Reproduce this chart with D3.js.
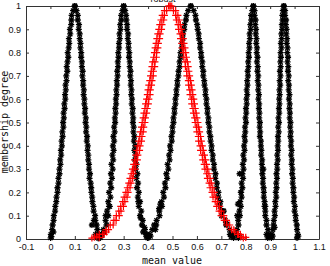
<!DOCTYPE html>
<html><head><meta charset="utf-8">
<script src="https://cdn.jsdelivr.net/npm/d3@7"></script>
<style>body{margin:0;background:#fff}svg{display:block}</style>
</head><body>
<svg id="c" width="330" height="266"></svg>
<script>
// membership levels (y) shared by the flank readings
const levels = [1.00,0.98,0.96,0.94,0.92,0.90,0.88,0.86,0.84,0.82,0.80,0.78,0.76,0.74,0.72,0.70,0.68,0.66,0.64,0.62,0.60,0.58,0.56,0.54,0.52,0.50,0.48,0.46,0.44,0.42,0.40,0.38,0.36,0.34,0.32,0.30,0.28,0.26,0.24,0.22,0.20,0.18,0.16,0.14,0.12,0.10,0.08,0.06,0.04,0.02];

// black curve 1 (peak ~0.10)
const c1L = [.100,.093,.087,.086,.085,.080,.081,.076,.077,.075,.071,.073,.070,.067,.069,.065,.066,.062,.063,.060,.061,.057,.058,.054,.055,.052,.053,.049,.050,.046,.047,.043,.044,.040,.041,.037,.037,.033,.033,.029,.029,.025,.024,.020,.019,.014,.013,.009,.007,.002];
const c1R = [.100,.107,.112,.112,.117,.116,.120,.120,.123,.123,.126,.126,.129,.129,.132,.131,.134,.134,.137,.136,.139,.139,.142,.141,.145,.144,.147,.146,.150,.149,.153,.152,.155,.155,.158,.158,.162,.160,.165,.167,.168,.171,.172,.176,.177,.183,.184,.189,.192,.196];
const c1Extra = [[0.001,0.005],[0.004,0.01],[0.012,0.03],[0.170,0.06],[0.178,0.08],[0.188,0.012],[0.195,0.004],[0.185,0.02]];

// black curve 2 (peak ~0.30)
const c2L = [.300,.295,.290,.290,.286,.287,.283,.284,.281,.281,.278,.279,.276,.277,.274,.275,.272,.273,.270,.271,.268,.269,.266,.267,.264,.265,.261,.263,.258,.261,.256,.259,.254,.257,.250,.255,.248,.252,.245,.249,.240,.246,.237,.243,.232,.237,.226,.230,.217,.212];
const c2R = [.300,.306,.310,.311,.314,.314,.318,.317,.320,.320,.323,.322,.325,.325,.328,.327,.330,.329,.332,.331,.334,.333,.337,.336,.339,.338,.341,.340,.344,.342,.347,.344,.349,.346,.352,.349,.356,.352,.359,.355,.362,.358,.367,.362,.372,.367,.378,.375,.387,.394];
const c2Extra = [[0.205,0.006],[0.208,0.015],[0.220,0.03],[0.198,0.004],[0.226,0.10],[0.240,0.14],[0.360,0.16],[0.370,0.09],[0.398,0.005],[0.392,0.012],[0.380,0.03],[0.385,0.05]];

// black curve 3 (peak ~0.575)
const c3L = [.575,.564,.557,.555,.549,.548,.543,.543,.538,.538,.533,.533,.529,.529,.525,.524,.520,.520,.516,.516,.512,.512,.508,.508,.504,.504,.500,.500,.496,.497,.490,.492,.486,.488,.480,.483,.475,.478,.469,.471,.462,.465,.455,.457,.446,.447,.435,.433,.417,.407];
const c3R = [.575,.587,.594,.596,.601,.603,.607,.608,.613,.613,.617,.618,.622,.622,.626,.626,.630,.631,.635,.635,.639,.639,.643,.643,.647,.647,.651,.651,.655,.656,.660,.660,.665,.665,.670,.670,.676,.675,.682,.681,.688,.688,.696,.695,.705,.701,.716,.720,.734,.745];
const c3Extra = [[0.400,0.005],[0.410,0.012],[0.395,0.02],[0.425,0.06],[0.430,0.04],[0.450,0.15],[0.445,0.13],[0.735,0.02],[0.740,0.01],[0.750,0.005],[0.720,0.07],[0.710,0.12]];

// black curve 4 (peak ~0.83)
const c4L = [.831,.827,.822,.823,.819,.820,.816,.817,.814,.815,.812,.813,.810,.811,.808,.809,.806,.807,.804,.806,.803,.804,.801,.802,.799,.801,.797,.798,.795,.797,.793,.795,.790,.793,.788,.791,.786,.789,.783,.786,.781,.783,.777,.780,.774,.776,.769,.770,.764,.762];
const c4R = [.831,.836,.836,.840,.839,.842,.841,.844,.843,.846,.845,.848,.846,.849,.848,.851,.849,.852,.851,.854,.852,.855,.854,.856,.855,.858,.857,.859,.858,.862,.862,.864,.863,.867,.866,.868,.868,.871,.870,.873,.874,.874,.877,.877,.880,.880,.885,.885,.891,.895];
const c4Extra = [[0.770,0.005],[0.775,0.012],[0.780,0.20],[0.775,0.28],[0.768,0.15],[0.765,0.10],[0.890,0.005],[0.885,0.02],[0.893,0.01],[0.880,0.14],[0.872,0.30]];

// black curve 5 (peak ~0.955)
const c5L = [.956,.952,.950,.951,.948,.949,.946,.947,.944,.946,.943,.944,.942,.943,.940,.942,.939,.941,.938,.939,.937,.938,.936,.937,.934,.936,.933,.935,.932,.933,.931,.932,.929,.931,.928,.929,.926,.928,.925,.926,.923,.925,.921,.922,.918,.919,.915,.914,.911,.907];
const c5R = [.956,.961,.961,.965,.964,.967,.966,.969,.968,.971,.970,.973,.971,.974,.973,.976,.974,.977,.976,.979,.977,.980,.979,.981,.980,.983,.982,.984,.983,.986,.985,.988,.986,.989,.988,.991,.990,.993,.992,.995,.995,.998,.997,1.001,1.000,1.004,1.005,1.009,1.010,1.013];
const c5Extra = [[0.905,0.005],[0.910,0.012],[1.010,0.005],[1.015,0.012],[0.918,0.05]];

// red curve (peak ~0.49): inner and outer edges of its band
const redL = [.490,.476,.467,.464,.457,.455,.449,.447,.442,.440,.435,.434,.428,.427,.422,.421,.416,.414,.409,.408,.403,.401,.396,.394,.389,.387,.382,.380,.375,.373,.367,.365,.358,.356,.350,.347,.340,.337,.330,.326,.318,.314,.305,.299,.289,.282,.269,.257,.238,.214];
const redR = [.490,.504,.513,.516,.523,.525,.531,.533,.538,.540,.545,.546,.552,.553,.558,.559,.565,.566,.571,.572,.578,.579,.584,.586,.591,.593,.598,.600,.606,.607,.613,.615,.622,.624,.630,.633,.640,.643,.650,.654,.662,.666,.675,.681,.691,.699,.712,.723,.742,.766];
const redL2 = [.484,.467,.458,.453,.448,.444,.440,.436,.433,.429,.426,.423,.419,.416,.413,.410,.407,.403,.400,.397,.394,.390,.387,.383,.380,.376,.373,.369,.366,.362,.358,.354,.350,.345,.341,.336,.331,.326,.321,.315,.309,.302,.296,.288,.280,.270,.260,.245,.228,.200];
const redR2 = [.497,.513,.522,.527,.532,.536,.540,.544,.547,.551,.554,.557,.561,.564,.567,.570,.574,.577,.580,.583,.587,.590,.593,.597,.600,.604,.607,.611,.615,.618,.622,.626,.631,.635,.639,.644,.649,.654,.659,.665,.671,.677,.684,.692,.700,.710,.721,.734,.751,.778];
const redExtra = [[0.170,0.004],[0.180,0.008],[0.190,0.012],[0.200,0.006],[0.220,0.02],[0.230,0.03],[0.780,0.01],[0.790,0.004],[0.800,0.007],[0.770,0.02],[0.755,0.03]];

const xTicks = [-0.1,0,0.1,0.2,0.3,0.4,0.5,0.6,0.7,0.8,0.9,1,1.1];
const xTickLabels = ["-0.1","0","0.1","0.2","0.3","0.4","0.5","0.6","0.7","0.8","0.9","1","1.1"];
const yTicks = [0,0.1,0.2,0.3,0.4,0.5,0.6,0.7,0.8,0.9,1];
const yTickLabels = ["0","0.1","0.2","0.3","0.4","0.5","0.6","0.7","0.8","0.9","1"];
const titleText = "robust";
const xLabelText = "mean value";
const yLabelText = "membership degree";

const svg = d3.select("#c");
const x = d3.scaleLinear().domain([-0.1,1.1]).range([26,319]);
const y = d3.scaleLinear().domain([0,1]).range([239,6]);

function pts(L,R,E){
  const a=[];
  levels.forEach((lv,i)=>{a.push([L[i],lv]);a.push([R[i],lv]);});
  E.forEach(p=>a.push(p));
  return a;
}
const asterisk = {draw(ctx,size){const r=Math.sqrt(size)/2,q=r*0.72;
  ctx.moveTo(-r,0);ctx.lineTo(r,0);ctx.moveTo(0,-r);ctx.lineTo(0,r);
  ctx.moveTo(-q,-q);ctx.lineTo(q,q);ctx.moveTo(-q,q);ctx.lineTo(q,-q);}};
const plus = {draw(ctx,size){const r=Math.sqrt(size)/2;
  ctx.moveTo(-r,0);ctx.lineTo(r,0);ctx.moveTo(0,-r);ctx.lineTo(0,r);}};

const black = [pts(c1L,c1R,c1Extra),pts(c2L,c2R,c2Extra),pts(c3L,c3R,c3Extra),pts(c4L,c4R,c4Extra),pts(c5L,c5R,c5Extra)];
const red = pts(redL,redR,redExtra).concat(pts(redL2,redR2,[]));

// axes box + ticks
const gB = svg.append("g").attr("transform","translate(0,239)")
  .call(d3.axisBottom(x).tickValues(xTicks).tickFormat((d,i)=>xTickLabels[i]).tickSizeInner(-3).tickSizeOuter(0).tickPadding(5));
const gT = svg.append("g").attr("transform","translate(0,6)")
  .call(d3.axisTop(x).tickValues(xTicks).tickFormat("").tickSizeInner(-3).tickSizeOuter(0));
const gL = svg.append("g").attr("transform","translate(26,0)")
  .call(d3.axisLeft(y).tickValues(yTicks).tickFormat((d,i)=>yTickLabels[i]).tickSizeInner(-3).tickSizeOuter(0).tickPadding(5));
const gR = svg.append("g").attr("transform","translate(319,0)")
  .call(d3.axisRight(y).tickValues(yTicks).tickFormat("").tickSizeInner(-3).tickSizeOuter(0));
[gB,gT,gL,gR].forEach(g=>{
  g.selectAll("path.domain").attr("stroke","#333");
  g.selectAll("line").attr("stroke","#333");
  g.selectAll("text").attr("fill","#111").style("font-family","'Liberation Sans',Arial,sans-serif").style("font-size","9px");
});

// black series
const symB = d3.symbol().type(asterisk).size(38);
black.forEach(data=>{
  svg.append("g").selectAll("path").data(data).join("path")
    .attr("transform",d=>`translate(${x(d[0])},${y(d[1])})`)
    .attr("d",symB).attr("fill","none").attr("stroke","#000").attr("stroke-width",1.3);
});
// red series
const symR = d3.symbol().type(plus).size(50);
svg.append("g").selectAll("path").data(red).join("path")
  .attr("transform",d=>`translate(${x(d[0])},${y(d[1])})`)
  .attr("d",symR).attr("fill","none").attr("stroke","#ff0000").attr("stroke-width",1.2);

// labels
svg.append("text").attr("x",163).attr("y",2).attr("text-anchor","middle")
  .style("font-family","'Liberation Sans',Arial,sans-serif").style("font-size","9px").attr("fill","#111").text(titleText);
svg.append("text").attr("x",172).attr("y",264).attr("text-anchor","middle")
  .style("font-family","'DejaVu Sans Mono',monospace").style("font-size","10px").attr("fill","#111").text(xLabelText);
svg.append("text").attr("transform","translate(8,122) rotate(-90)").attr("text-anchor","middle")
  .style("font-family","'DejaVu Sans Mono',monospace").style("font-size","10px").attr("fill","#111").text(yLabelText);
</script>
</body></html>
